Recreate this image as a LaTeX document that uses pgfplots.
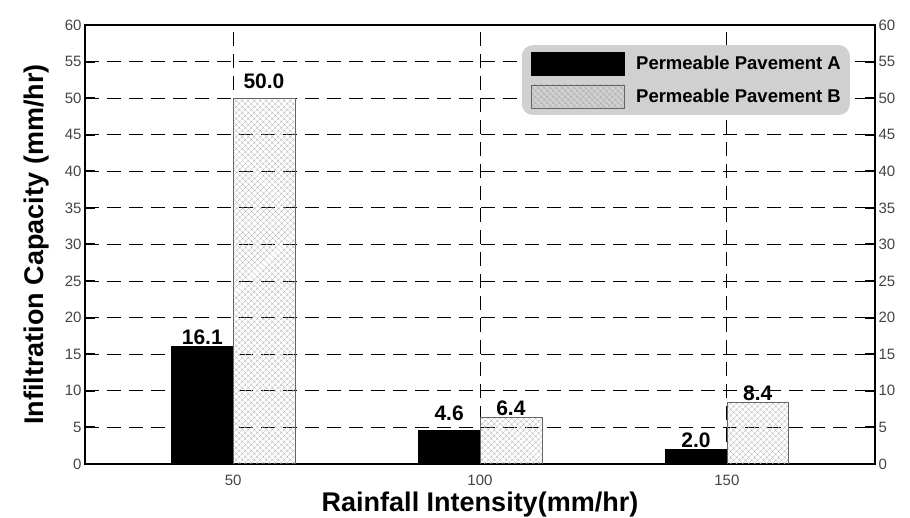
\documentclass[border=0pt]{standalone}
\usepackage{pgfplots}
\usepackage{pgfplotstable}
\pgfplotsset{compat=1.18}
\usetikzlibrary{patterns.meta}
\usepackage{fontspec}
\setmainfont{Liberation Sans}

\definecolor{legbg}{HTML}{D0D0D0}
\definecolor{ticktxt}{HTML}{444444}
\definecolor{hatchc}{HTML}{B0B0B0}

% x: category position, A/B: values, oA/oB: extra label lift (pt)
\pgfplotstableread{
x A B oA oB
0 16.1 50.0 0 8
1 4.6 6.4 8 0
2 2.0 8.4 0 0
}\datatable

\pgfplotsset{
  common/.style={
    width=790pt, height=439pt, scale only axis,
    xmin=-0.6, xmax=2.6, ymin=0, ymax=60,
    ytick={0,5,...,60},
    /pgf/number format/assume math mode=true,
    tick label style={font=\fontsize{15}{17}\selectfont, text=ticktxt},
  },
}

\begin{document}
\begin{tikzpicture}
\begin{axis}[
  common,
  xtick={0,1,2}, xticklabels={50,100,150},
  xtick style={draw=none},
  xticklabel style={yshift=3pt},
  ytick pos=both, yticklabel pos=left,
  tick align=inside, major tick length=10pt,
  ytick style={line width=2pt, black},
  axis line style={line width=2.4pt},
  xmajorgrids, ymajorgrids,
  grid style={dash pattern=on 14pt off 8pt, line width=1pt, black},
  ybar=0pt, bar width=0.25,
  xlabel={Rainfall Intensity(mm/hr)},
  ylabel={Infiltration Capacity (mm/hr)},
  xlabel style={font=\fontsize{27}{30}\selectfont\bfseries, at={(axis description cs:0.5,-0.093)}, anchor=center},
  ylabel style={font=\fontsize{27}{30}\selectfont\bfseries, at={(axis description cs:-0.061,0.5)}, anchor=center},
  nodes near coords={\pgfmathprintnumber[fixed,fixed zerofill,precision=1]{\pgfplotspointmeta}},
  nodes near coords style={font=\fontsize{21}{23}\selectfont\bfseries, inner sep=1.5pt, anchor=south, yshift=\lift pt},
  legend cell align=left,
  legend style={
    at={(rel axis cs:1,1)}, xshift=-25pt, yshift=-20pt, anchor=north east,
    fill=legbg, draw=none, rounded corners=11pt,
    inner xsep=9pt, inner ysep=7pt,
    font=\fontsize{18.5}{20}\selectfont\bfseries,
    nodes={inner sep=0pt}, row sep=9pt,
  },
  legend image code/.code={\draw[#1, sharp corners] (0pt,-11.5pt) rectangle (93pt,11.5pt);},
  /tikz/every odd column/.append style={column sep=12pt},
]
\addplot[fill=black, draw=black, visualization depends on={\thisrow{oA} \as \lift}]
  table[x=x, y=A] {\datatable};
\addplot[pattern={Hatch[angle=45, distance=4pt, line width=0.45pt]}, pattern color=hatchc, draw=black!60,
  visualization depends on={\thisrow{oB} \as \lift}]
  table[x=x, y=B] {\datatable};
\legend{Permeable Pavement A, Permeable Pavement B}
\coordinate (sw) at (rel axis cs:0,0);
\coordinate (ne) at (rel axis cs:1,1);
\end{axis}
\begin{axis}[
  common,
  hide x axis,
  axis y line*=right,
  y axis line style={draw=none},
  major tick length=0pt,
  yticklabel pos=right,
]
\addplot[draw=none] coordinates {(0,0)};
\end{axis}
\pgfresetboundingbox
\path ([shift={(-85pt,-54pt)}]sw) rectangle ([shift={(35pt,25pt)}]ne);
\end{tikzpicture}
\end{document}
